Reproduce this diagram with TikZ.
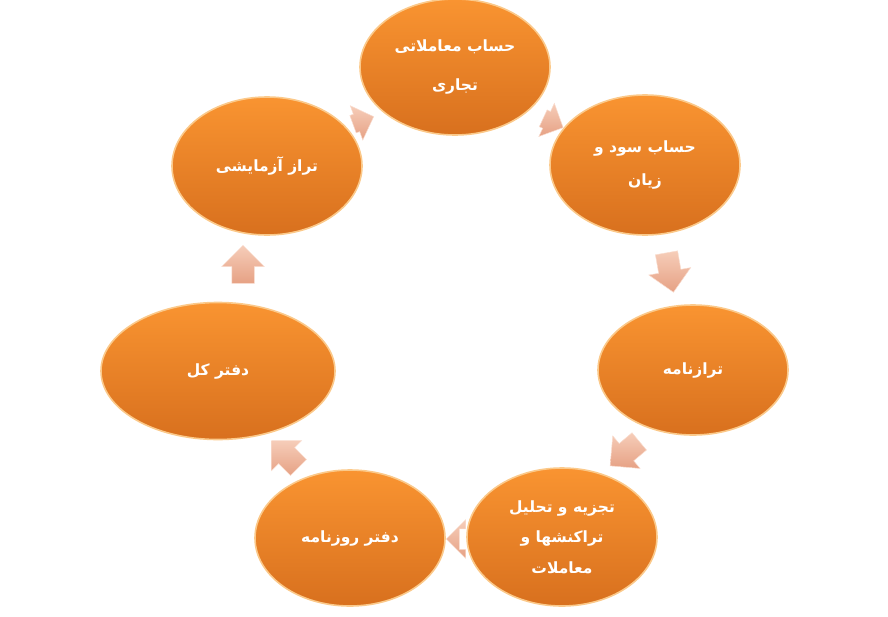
\documentclass[tikz,border=0pt]{standalone}
\usepackage{fontspec}
\usetikzlibrary{shapes.geometric,shapes.arrows}
\newfontfamily\arabicfont[Script=Arabic]{DejaVu Sans}
\TeXXeTstate=1
\definecolor{orTop}{HTML}{F99431}
\definecolor{orBot}{HTML}{D8701E}
\definecolor{rim}{HTML}{FBC98A}
\definecolor{pkTop}{HTML}{F6CDB9}
\definecolor{pkBot}{HTML}{E6A184}
\tikzset{
  stage/.style={ellipse, minimum width=190pt, minimum height=136pt, inner sep=0pt,
    top color=orTop, bottom color=orBot, draw=rim, line width=1.6pt,
    text=white, align=center, font=\arabicfont\bfseries\fontsize{15.5}{15.5}\selectfont},
  flowarrow/.style={single arrow, single arrow head extend=10pt, inner xsep=0pt, inner ysep=11pt,
    top color=pkTop, bottom color=pkBot, draw=pkTop!70!white, line width=0.5pt}
}
\begin{document}
\begin{tikzpicture}[x=1pt,y=1pt]
\useasboundingbox (0,0) rectangle (888,-616);
\node[stage] (n1) at (455,-67) {\beginR حساب معاملاتی\endR\\[24pt]\beginR تجاری\endR};
\node[stage, minimum height=140pt] (n2) at (645,-165) {\beginR حساب سود و\endR\\[16pt]\beginR زیان\endR};
\node[stage, minimum height=130pt] (n3) at (693,-370) {\beginR ترازنامه\endR};
\node[stage, minimum height=138pt] (n4) at (562,-537) {\beginR تجزیه و تحلیل\endR\\[14pt]\beginR تراکنشها و\endR\\[14pt]\beginR معاملات\endR};
\node[stage, minimum height=136pt] (n5) at (350,-538) {\beginR دفتر روزنامه\endR};
\node[stage, minimum width=234pt, minimum height=137pt] (n6) at (218,-371) {\beginR دفتر کل\endR};
\node[stage, minimum height=138pt] (n7) at (267,-166) {\beginR تراز آزمایشی\endR};
% arrows between stages
\node[flowarrow, minimum height=22pt, inner ysep=9pt, single arrow head extend=9pt, rotate=20] (a71) at (359,-122) {};
\node[flowarrow, minimum height=22pt, inner ysep=9pt, single arrow head extend=9pt, rotate=-25] (a12) at (549,-121) {};
\node[flowarrow, minimum height=40pt, rotate=-80] (a23) at (669,-267) {};
\node[flowarrow, minimum height=38pt, rotate=-140] (a34) at (629,-450) {};
\node[flowarrow, minimum height=13pt, inner ysep=10pt, single arrow head extend=9pt, rotate=180] (a45) at (458,-539) {};
\node[flowarrow, minimum height=38pt, rotate=135] (a56) at (289,-458) {};
\node[flowarrow, minimum height=38pt, rotate=90] (a67) at (243,-270) {};
\end{tikzpicture}
\end{document}
